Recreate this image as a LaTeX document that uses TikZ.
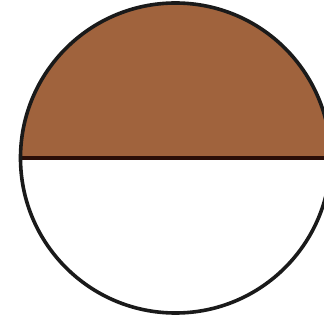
\documentclass[tikz,border=0pt]{standalone}
\definecolor{halfBrown}{HTML}{A0633D}
\definecolor{halfEdge}{HTML}{1A1A1A}
\definecolor{halfLine}{HTML}{2A0E08}
\tikzset{
  half rim/.style={draw=halfEdge, line width=3.6pt},
  half cut/.style={draw=halfLine, line width=4.2pt},
  half fill/.style={fill=halfBrown},
}
\begin{document}
\begin{tikzpicture}[x=1pt,y=1pt]
  \useasboundingbox (0,0) rectangle (324,324);
  % upper half, filled (right side runs past the frame)
  \fill[half fill] (20.5,166) arc [start angle=180, end angle=0, x radius=155, y radius=155] -- cycle;
  % dividing line
  \draw[half cut] (20.5,166) -- (330.5,166);
  % rim
  \draw[half rim] (175.5,166) ellipse [x radius=155, y radius=155];
\end{tikzpicture}
\end{document}
